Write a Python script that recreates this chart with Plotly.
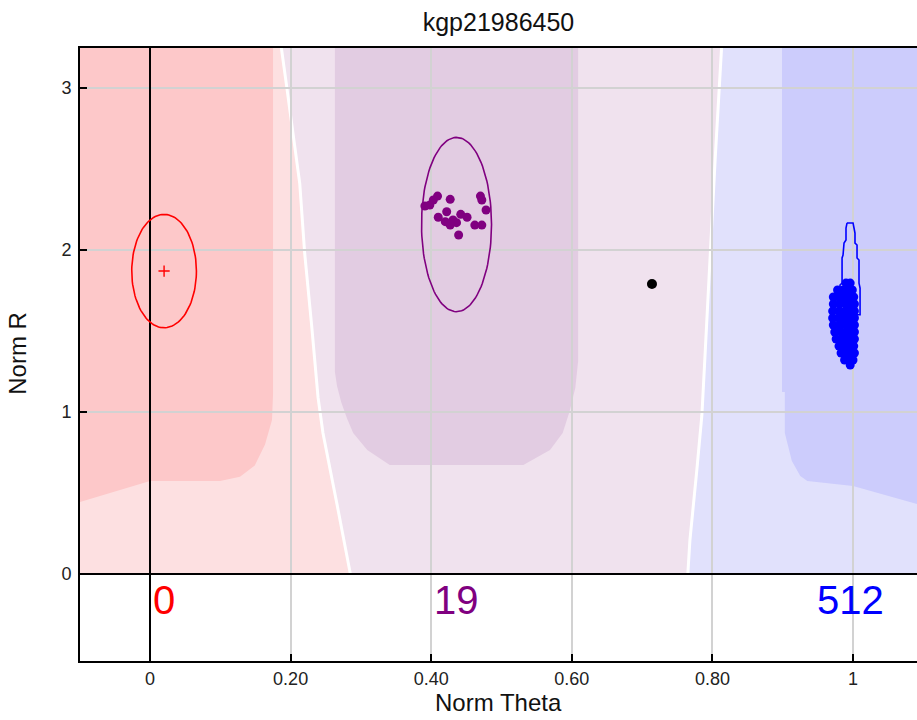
import numpy as np
import plotly.graph_objects as go

# ---------------- data ----------------
title_text = "kgp21986450"
x_tick_vals = [0, 0.2, 0.4, 0.6, 0.8, 1.0]
x_tick_text = ["0", "0.20", "0.40", "0.60", "0.80", "1"]
y_tick_vals = [0, 1, 2, 3]
y_tick_text = ["0", "1", "2", "3"]

cluster_counts = ["0", "19", "512"]
cluster_label_x = [0.020, 0.436, 0.997]

# red (AA) cluster: mean marker + ellipse (center x, center y, half-width, half-height)
red_center = [0.020, 1.870]
red_ellipse = [0.020, 1.870, 0.046, 0.350]
# purple (AB) cluster
purple_ellipse = [0.436, 2.157, 0.0498, 0.538]
purple_x = [0.391, 0.398, 0.403, 0.409, 0.427, 0.410, 0.422, 0.420, 0.427, 0.436,
            0.442, 0.451, 0.439, 0.462, 0.472, 0.470, 0.472, 0.478, 0.431]
purple_y = [2.272, 2.278, 2.309, 2.333, 2.313, 2.202, 2.236, 2.175, 2.154, 2.169,
            2.220, 2.202, 2.093, 2.154, 2.154, 2.333, 2.309, 2.247, 2.185]
# blue (BB) cluster
blue_x = [0.990, 0.996,
          0.978, 0.986, 0.994, 0.999,
          0.972, 0.980, 0.988, 0.995, 1.001,
          0.972, 0.981, 0.990, 0.997, 1.002,
          0.971, 0.980, 0.989, 0.996, 1.002,
          0.971, 0.980, 0.988, 0.995, 1.002,
          0.972, 0.981, 0.990, 0.997, 1.002,
          0.974, 0.983, 0.991, 0.998, 1.002,
          0.976, 0.985, 0.992, 0.999, 1.002,
          0.980, 0.987, 0.994, 1.001,
          0.983, 0.990, 0.997, 1.002,
          0.988, 0.995, 1.000,
          0.996]
blue_y = [1.796, 1.796,
          1.753, 1.753, 1.753, 1.753,
          1.710, 1.710, 1.710, 1.710, 1.710,
          1.667, 1.667, 1.667, 1.667, 1.667,
          1.623, 1.623, 1.623, 1.623, 1.623,
          1.580, 1.580, 1.580, 1.580, 1.580,
          1.537, 1.537, 1.537, 1.537, 1.537,
          1.494, 1.494, 1.494, 1.494, 1.494,
          1.451, 1.451, 1.451, 1.451, 1.451,
          1.407, 1.407, 1.407, 1.407,
          1.364, 1.364, 1.364, 1.364,
          1.321, 1.321, 1.321,
          1.290]
blue_outline_x = [0.9915, 1.0000, 1.0014, 1.0028, 1.0028, 1.0057, 1.0057, 1.0085, 1.0085,
                  1.0100, 1.0100, 0.9815, 0.9815, 0.9844, 0.9844, 0.9858, 0.9872, 0.9900,
                  0.9900, 0.9915]
blue_outline_y = [2.167, 2.167, 2.136, 2.105, 2.043, 2.031, 1.951, 1.938, 1.796,
                  1.765, 1.600, 1.600, 1.784, 1.796, 1.951, 1.969, 2.043, 2.062,
                  2.136, 2.167]
# uncalled sample
nc_x = [0.714]
nc_y = [1.790]

# cluster call region boundaries (theta, r)
bound_left_x = [0.182, 0.195, 0.213, 0.220, 0.230, 0.239, 0.246, 0.256, 0.266, 0.285]
bound_left_y = [3.40, 2.99, 2.41, 1.98, 1.53, 1.09, 0.87, 0.65, 0.43, 0.0]
bound_right_x = [0.815, 0.804, 0.797, 0.789, 0.785, 0.778, 0.768, 0.765]
bound_right_y = [3.40, 2.57, 1.98, 1.31, 0.98, 0.65, 0.21, 0.0]
# high-confidence (darker) regions
core_red_x = [-0.2, 0.175, 0.175, 0.1735, 0.1636, 0.149, 0.128, 0.0996, 0.0, -0.1, -0.2]
core_red_y = [3.40, 3.40, 1.110, 0.950, 0.800, 0.670, 0.600, 0.574, 0.574, 0.444, 0.43]
core_purple_x = [0.263, 0.609, 0.609, 0.605, 0.597, 0.587, 0.569, 0.531, 0.341, 0.309,
                 0.289, 0.280, 0.272, 0.266, 0.263]
core_purple_y = [3.40, 3.40, 1.315, 1.150, 1.006, 0.870, 0.765, 0.673, 0.673, 0.765,
                 0.870, 0.963, 1.060, 1.160, 1.247]
core_blue_x = [0.899, 1.20, 1.20, 1.091, 1.000, 0.935, 0.925, 0.913, 0.903, 0.903, 0.899]
core_blue_y = [3.40, 3.40, 0.40, 0.432, 0.543, 0.574, 0.605, 0.698, 0.870, 1.123, 1.123]

# ---------------- styling ----------------
RED, PURPLE, BLUE = "#ff0000", "#800080", "#0000ff"
LIGHT_RED, CORE_RED = "rgb(253,224,225)", "rgb(253,200,201)"
LIGHT_PURPLE, CORE_PURPLE = "rgb(240,226,238)", "rgb(226,204,226)"
LIGHT_BLUE, CORE_BLUE = "rgb(225,225,252)", "rgb(204,204,252)"
FONT = "Liberation Sans, Arial, sans-serif"


def path_from(xs, ys, close=True):
    p = "M " + " L ".join(f"{x},{y}" for x, y in zip(xs, ys))
    return p + (" Z" if close else "")


def ellipse(params, n=120):
    cx, cy, rx, ry = params
    t = np.linspace(0, 2 * np.pi, n)
    return cx + rx * np.cos(t), cy + ry * np.sin(t)


shapes = []
# light regions
lr_x = [-0.2] + bound_left_x + [-0.2]
lr_y = [3.40] + bound_left_y + [0.0]
shapes.append(dict(type="path", path=path_from(lr_x, lr_y), fillcolor=LIGHT_RED,
                   line=dict(width=0), layer="below", xref="x", yref="y"))
lp_x = bound_left_x + bound_right_x[::-1]
lp_y = bound_left_y + bound_right_y[::-1]
shapes.append(dict(type="path", path=path_from(lp_x, lp_y), fillcolor=LIGHT_PURPLE,
                   line=dict(width=0), layer="below", xref="x", yref="y"))
lb_x = bound_right_x + [1.2, 1.2]
lb_y = bound_right_y + [0.0, 3.40]
shapes.append(dict(type="path", path=path_from(lb_x, lb_y), fillcolor=LIGHT_BLUE,
                   line=dict(width=0), layer="below", xref="x", yref="y"))
# separator lines
for bx, by in [(bound_left_x, bound_left_y), (bound_right_x, bound_right_y)]:
    shapes.append(dict(type="path", path=path_from(bx, by, close=False),
                       line=dict(color="white", width=3), layer="below",
                       xref="x", yref="y"))
# core regions
for cx_, cy_, col in [(core_red_x, core_red_y, CORE_RED),
                      (core_purple_x, core_purple_y, CORE_PURPLE),
                      (core_blue_x, core_blue_y, CORE_BLUE)]:
    shapes.append(dict(type="path", path=path_from(cx_, cy_), fillcolor=col,
                       line=dict(width=0), layer="below", xref="x", yref="y"))
# white band below r = 0
shapes.append(dict(type="rect", x0=-0.2, x1=1.2, y0=-1.0, y1=0.0, fillcolor="white",
                   line=dict(width=0), layer="below", xref="x", yref="y"))

fig = go.Figure()

ex, ey = ellipse(red_ellipse)
fig.add_trace(go.Scatter(x=ex, y=ey, mode="lines", line=dict(color=RED, width=1.6),
                         hoverinfo="skip", showlegend=False))
fig.add_trace(go.Scatter(x=[red_center[0]], y=[red_center[1]], mode="markers",
                         marker=dict(symbol="cross-thin", size=8,
                                     line=dict(color=RED, width=1.4)),
                         showlegend=False))

ex, ey = ellipse(purple_ellipse)
fig.add_trace(go.Scatter(x=ex, y=ey, mode="lines", line=dict(color=PURPLE, width=1.6),
                         hoverinfo="skip", showlegend=False))
fig.add_trace(go.Scatter(x=purple_x, y=purple_y, mode="markers",
                         marker=dict(color=PURPLE, size=9), showlegend=False))

fig.add_trace(go.Scatter(x=blue_outline_x, y=blue_outline_y, mode="lines",
                         line=dict(color=BLUE, width=1.6), hoverinfo="skip",
                         showlegend=False))
fig.add_trace(go.Scatter(x=blue_x, y=blue_y, mode="markers",
                         marker=dict(color=BLUE, size=9), showlegend=False))

fig.add_trace(go.Scatter(x=nc_x, y=nc_y, mode="markers",
                         marker=dict(color="black", size=10), showlegend=False))

annotations = []
for txt, xv, col in zip(cluster_counts, cluster_label_x, [RED, PURPLE, BLUE]):
    annotations.append(dict(x=xv, y=-0.16, xref="x", yref="y", text=txt,
                            showarrow=False, font=dict(size=40, color=col, family=FONT),
                            xanchor="center", yanchor="middle"))
annotations.append(dict(x=0.5, y=-0.0685, xref="paper", yref="paper", text="Norm Theta",
                        showarrow=False, font=dict(size=24, color="#111", family=FONT),
                        xanchor="center", yanchor="middle"))
annotations.append(dict(x=-0.0747, y=0.502, xref="paper", yref="paper", text="Norm R",
                        textangle=-90, showarrow=False,
                        font=dict(size=24, color="#111", family=FONT),
                        xanchor="center", yanchor="middle"))

fig.update_layout(
    width=917, height=720,
    margin=dict(l=80, r=0, t=48, b=59),
    paper_bgcolor="white", plot_bgcolor="white",
    title=dict(text=title_text, x=0.5, xref="paper", y=1 - 22 / 720, yref="container",
               xanchor="center", yanchor="middle",
               font=dict(size=25, color="#111", family=FONT)),
    shapes=shapes,
    annotations=annotations,
    xaxis=dict(range=[-0.0996, 1.0910], tickvals=x_tick_vals, ticktext=x_tick_text,
               showgrid=True, gridcolor="#d2d2d2", gridwidth=1.5,
               zeroline=True, zerolinecolor="black", zerolinewidth=2,
               showline=True, linecolor="black", linewidth=2, mirror=True,
               ticks="inside", ticklen=7, tickwidth=1.5, tickcolor="black",
               tickfont=dict(size=18, color="#222", family=FONT)),
    yaxis=dict(range=[-0.537, 3.247], tickvals=y_tick_vals, ticktext=y_tick_text,
               showgrid=True, gridcolor="#d2d2d2", gridwidth=1.5,
               zeroline=True, zerolinecolor="black", zerolinewidth=2,
               showline=True, linecolor="black", linewidth=2,
               ticks="inside", ticklen=7, tickwidth=1.5, tickcolor="black",
               ticklabelstandoff=3,
               tickfont=dict(size=18, color="#222", family=FONT)),
)

fig.write_html("out.html")
